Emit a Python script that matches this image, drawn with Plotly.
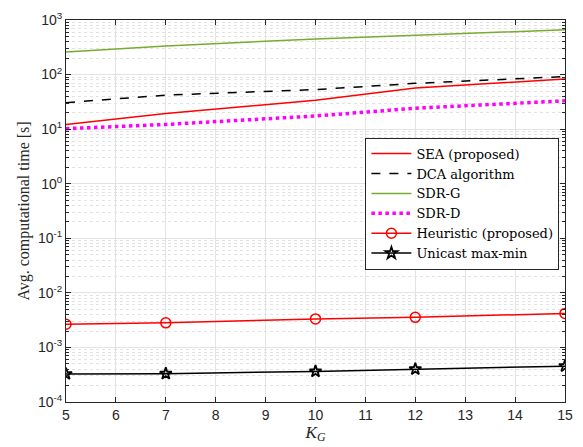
import plotly.graph_objects as go

K = [5, 7, 10, 12, 15]
sea = [12.2, 19.4, 33.7, 57, 83]
dca = [30.6, 42, 53, 69, 92]
sdr_g = [258, 334, 449, 528, 660]
sdr_d = [10.2, 12.2, 17.4, 24.2, 33]
heur = [2.66e-3, 2.82e-3, 3.33e-3, 3.56e-3, 4.2e-3]
unicast = [3.26e-4, 3.3e-4, 3.63e-4, 4.0e-4, 4.54e-4]

xticks = list(range(5, 16))
yexp = list(range(-4, 4))

fig = go.Figure()
fig.add_trace(go.Scatter(x=K, y=sea, name="SEA (proposed)", mode="lines",
                         line=dict(color="#FF0000", width=1.5)))
fig.add_trace(go.Scatter(x=K, y=dca, name="DCA algorithm", mode="lines",
                         line=dict(color="#000000", width=1.5, dash="dash")))
fig.add_trace(go.Scatter(x=K, y=sdr_g, name="SDR-G", mode="lines",
                         line=dict(color="#77AC30", width=1.5)))
fig.add_trace(go.Scatter(x=K, y=sdr_d, name="SDR-D", mode="lines",
                         line=dict(color="#FF00FF", width=3.5, dash="dot")))
fig.add_trace(go.Scatter(x=K, y=heur, name="Heuristic (proposed)", mode="lines+markers",
                         line=dict(color="#FF0000", width=1.5),
                         marker=dict(symbol="circle-open", size=10, color="#FF0000",
                                     line=dict(width=1.5))))
fig.add_trace(go.Scatter(x=K, y=unicast, name="Unicast max-min", mode="lines+markers",
                         line=dict(color="#000000", width=1.5),
                         marker=dict(symbol="star-open", size=9, color="#000000",
                                     line=dict(width=1.8))))

serif = "Liberation Serif, DejaVu Serif, serif"
lserif = "DejaVu Serif, Liberation Serif, serif"
sans = "Liberation Sans, Arial, sans-serif"

fig.update_layout(
    width=583, height=447,
    margin=dict(l=66, r=10, t=14, b=44),
    paper_bgcolor="white", plot_bgcolor="white",
    font=dict(family=sans, size=14, color="#262626"),
    showlegend=True,
    legend=dict(x=0.6, y=0.692, xanchor="left", yanchor="top",
                bgcolor="white", bordercolor="#262626", borderwidth=1,
                font=dict(family=lserif, size=13, color="#000000"),
                tracegroupgap=0, itemwidth=40),
)
fig.update_xaxes(
    range=[5, 15], tickvals=xticks, ticktext=[str(v) for v in xticks],
    showline=True, linecolor="#262626", linewidth=1, mirror="ticks",
    ticks="inside", ticklen=5, tickcolor="#262626",
    showgrid=True, gridcolor="#E3E3E3", gridwidth=1,
    zeroline=False,
    title=dict(text="<i>K</i><sub><i>G</i></sub>", font=dict(family=serif, size=17, color="#262626"),
               standoff=2),
)
fig.update_yaxes(
    type="log", range=[-4, 3],
    tickvals=[10 ** e for e in yexp],
    ticktext=["10<sup>%d</sup>" % e for e in yexp],
    showline=True, linecolor="#262626", linewidth=1, mirror="ticks",
    ticks="inside", ticklen=5, tickcolor="#262626",
    showgrid=True, gridcolor="#E3E3E3", gridwidth=1,
    minor=dict(dtick="D1", ticks="inside", ticklen=3, tickcolor="#262626",
               showgrid=True, gridcolor="#E2E2E2", griddash="dot", gridwidth=1),
    zeroline=False,
    title=dict(text="Avg. computational time [s]", font=dict(family=serif, size=16, color="#262626"),
               standoff=4),
)

fig.write_html("out.html")
